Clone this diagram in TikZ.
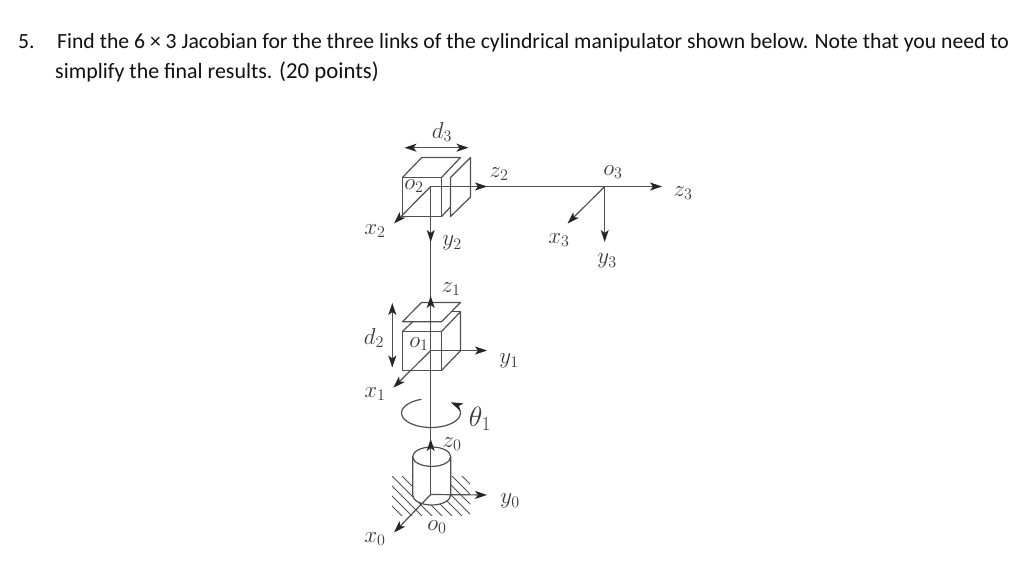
\documentclass[tikz,border=0pt]{standalone}
\usepackage{fix-cm}
\usepackage{fontspec}
\setmainfont{Carlito}
\usetikzlibrary{arrows.meta}
\definecolor{ink}{HTML}{505050}
\definecolor{lbl}{HTML}{3A3A3A}
\definecolor{txt}{HTML}{111111}
\tikzset{
  body/.style={draw=ink,line width=1.2pt,line join=round},
  axis/.style={draw=ink,line width=1.2pt},
  tipa/.tip={Stealth[length=12pt,width=8pt,inset=3pt,color=black!85]},
  arr/.style={axis,-tipa},
  darr/.style={axis,tipa-tipa},
  lab/.style={text=lbl,inner sep=0pt,font=\fontsize{23}{26}\selectfont},
  line1/.style={text=txt,inner sep=0pt,anchor=base west,font=\fontsize{21.68}{24}\selectfont}
}
\begin{document}
\begin{tikzpicture}[x=1pt,y=-1pt]
\useasboundingbox (0,0) rectangle (1024,572);
\fill[white] (0,0) rectangle (1024,572);
% problem text
\node[line1] (num) at (18,49) {5.};
\node[line1] (l1) at (57,49) {Find the 6 × 3 Jacobian for the three links of the cylindrical manipulator shown below. Note that you need to};
\node[line1,font=\fontsize{21.9}{24}\selectfont] (l2) at (55,79) {simplify the final results. \fontsize{22.8}{24}\selectfont (20 points)};
% origins
\coordinate (o0) at (430.7,494.5);
\coordinate (o1) at (430.7,350.5);
\coordinate (o2) at (430.7,186.5);
\coordinate (o3) at (604.7,186.5);
% hatching
\begin{scope}
\clip (392,476) rectangle (470,515);
\foreach \c in {4,14,...,124}{
  \draw[ink,line width=1pt] (380,380+\c) -- (490,490+\c);
}
\end{scope}
% cylinder
\path[fill=white] (412.7,456.7) -- (412.7,495) arc[start angle=180,end angle=0,x radius=19,y radius=10] -- (450.7,456.7) -- cycle;
\draw[body] (412.7,456.7) -- (412.7,495) arc[start angle=180,end angle=0,x radius=19,y radius=10] -- (450.7,456.7);
\draw[body] (431.7,456.7) ellipse[x radius=19,y radius=9.7];
% vertical link
\draw[axis] (o0) -- (o1) -- (o2) -- (o3);
% rotation
\draw[arr] (421.4,399.3) arc[start angle=251,end angle=-48,x radius=29.5,y radius=14.5];
% frame 0
\coordinate (z0t) at (430.7,439);
\coordinate (y0t) at (487,495);
\coordinate (x0t) at (394,532.5);
\draw[arr] (o0) -- (z0t);
\draw[arr] (o0) -- (y0t);
\draw[arr] (o0) -- (x0t);
% cube 1
\draw[body] (402.5,331.5) rectangle (441.5,370.5);
\draw[body] (402.5,331.5) -- (412.5,321.7);
\draw[body] (441.5,331.5) -- (460.5,311.7) -- (460.5,350.7) -- (441.5,370.5);
\draw[body] (450.5,311.7) -- (460.5,311.7);
\draw[body] (421.5,302.5) -- (460.5,302.5) -- (441.5,321.7) -- (402.5,321.7) -- cycle;
\coordinate (z1t) at (430.7,296);
\coordinate (y1t) at (487,350.5);
\coordinate (x1t) at (393.3,387.7);
\draw[arr] (o1) -- (z1t);
\draw[arr] (o1) -- (y1t);
\draw[arr] (o1) -- (x1t);
\coordinate (d2a) at (392.3,303);
\coordinate (d2b) at (392.3,367.5);
\draw[darr] (d2a) -- (d2b);
% cube 2
\draw[body] (402.5,177.5) rectangle (441.5,216.5);
\draw[body] (402.5,177.5) -- (421.7,157.5) -- (460.5,157.5) -- (441.5,177.5);
\draw[body] (441.5,216.5) -- (450.5,207);
\draw[body] (450.5,177.5) -- (470.5,157.5) -- (470.5,197) -- (450.5,216.5) -- cycle;
\coordinate (z2t) at (487,186.5);
\coordinate (y2t) at (430.7,242);
\coordinate (x2t) at (394,223.5);
\draw[arr] (o2) -- (z2t);
\draw[arr] (o2) -- (y2t);
\draw[arr] (o2) -- (x2t);
\coordinate (d3a) at (404.5,147.7);
\coordinate (d3b) at (468.5,147.7);
\draw[darr] (d3a) -- (d3b);
% frame 3
\coordinate (z3t) at (662,186.5);
\coordinate (y3t) at (604.7,242);
\coordinate (x3t) at (567.5,223.5);
\draw[arr] (o3) -- (z3t);
\draw[arr] (o3) -- (y3t);
\draw[arr] (o3) -- (x3t);
% labels
\node[lab] (d3) at (442,132) {$d_3$};
\node[lab] (z2) at (499,174) {$z_2$};
\node[lab] (O2) at (414,186) {$o_2$};
\node[lab] (x2) at (375,231) {$x_2$};
\node[lab] (y2) at (452,243) {$y_2$};
\node[lab] (z1) at (451,289) {$z_1$};
\node[lab] (d2) at (374,338) {$d_2$};
\node[lab] (O1) at (419,344) {$o_1$};
\node[lab] (y1) at (509,361) {$y_1$};
\node[lab] (x1) at (375,394) {$x_1$};
\node[lab,font=\fontsize{28}{30}\selectfont] (th) at (480,419) {$\theta_{\scriptstyle 1}$};
\node[lab] (z0) at (452,444) {$z_0$};
\node[lab] (y0) at (510,501) {$y_0$};
\node[lab] (O0) at (437,527) {$o_0$};
\node[lab] (x0) at (375,539) {$x_0$};
\node[lab] (O3) at (613,172) {$o_3$};
\node[lab] (z3) at (683,193) {$z_3$};
\node[lab] (x3) at (559,240) {$x_3$};
\node[lab] (y3) at (607,261) {$y_3$};
\end{tikzpicture}
\end{document}
